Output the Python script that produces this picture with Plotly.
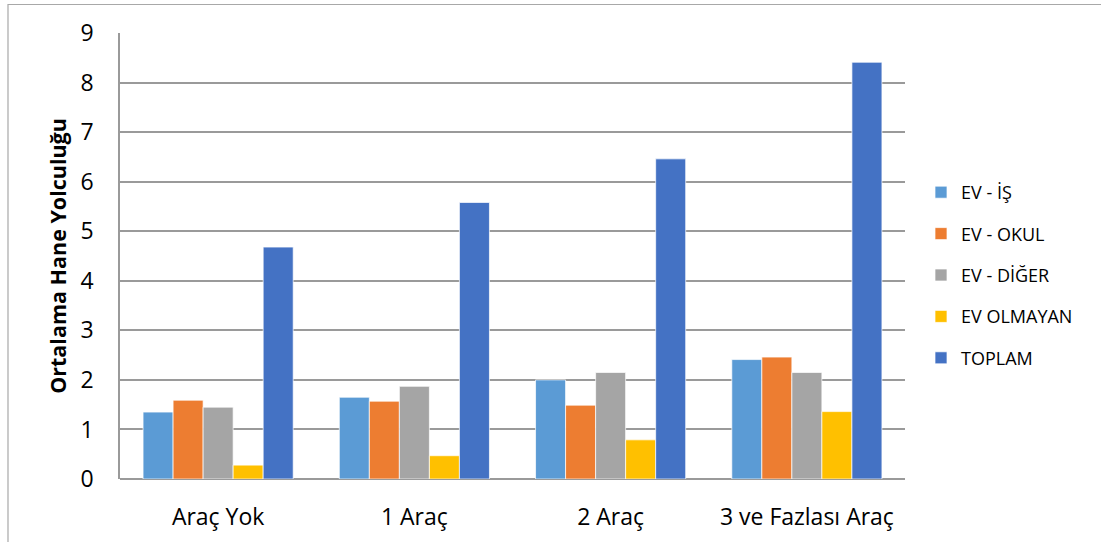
import plotly.graph_objects as go

# Average household trips by car ownership
categories = ["Araç Yok", "1 Araç", "2 Araç", "3 ve Fazlası Araç"]
series_names = ["EV - İŞ", "EV - OKUL", "EV - DİĞER", "EV OLMAYAN", "TOPLAM"]
ev_is = [1.35, 1.65, 2.00, 2.41]
ev_okul = [1.59, 1.57, 1.49, 2.46]
ev_diger = [1.45, 1.87, 2.15, 2.15]
ev_olmayan = [0.28, 0.47, 0.79, 1.36]
toplam = [4.68, 5.58, 6.46, 8.41]
y_ticks = [0, 1, 2, 3, 4, 5, 6, 7, 8, 9]

series_values = [ev_is, ev_okul, ev_diger, ev_olmayan, toplam]
colors = ["#5B9BD5", "#ED7D31", "#A5A5A5", "#FFC000", "#4472C4"]

FONT = "Open Sans, sans-serif"

fig = go.Figure()
for i, (name, vals, col) in enumerate(zip(series_names, series_values, colors)):
    fig.add_trace(go.Bar(
        x=categories, y=vals, name=name, legendgroup=f"g{i}",
        marker=dict(color=col, line=dict(color="rgba(255,255,255,0.7)", width=1)),
    ))

# Plot area spans 120..905 px horizontally, 33..479 px vertically
L, R, T, B = 120, 196, 33, 63
W, H = 1101, 542
pw, ph = W - L - R, H - T - B

fig.update_layout(
    width=W, height=H,
    margin=dict(l=L, r=R, t=T, b=B, autoexpand=False),
    paper_bgcolor="white", plot_bgcolor="white",
    barmode="group", bargap=0.235, bargroupgap=0,
    font=dict(family=FONT, color="#000000", size=22),
    legend=dict(
        x=(921 - L) / pw, y=1 - (174 - T) / ph, xanchor="left", yanchor="top",
        font=dict(size=18, family=FONT, color="#000000"),
        traceorder="grouped", tracegroupgap=15,
        bgcolor="rgba(0,0,0,0)",
    ),
    xaxis=dict(
        showgrid=False, showline=False, zeroline=False, automargin=False,
        ticks="outside", ticklen=17, tickcolor="rgba(0,0,0,0)",
        tickfont=dict(size=23, family=FONT),
    ),
    yaxis=dict(
        range=[0, 9], tickvals=y_ticks, showgrid=True, automargin=False,
        gridcolor="#9A9A9A", gridwidth=1.5,
        showline=True, linecolor="#9A9A9A", linewidth=1.5,
        zeroline=True, zerolinecolor="#9A9A9A", zerolinewidth=1.5,
        ticks="outside", ticklen=20, tickcolor="rgba(0,0,0,0)",
        tickfont=dict(size=23, family=FONT),
        title=dict(text="<b>Ortalama Hane Yolculuğu</b>", font=dict(size=21.5, family=FONT), standoff=8),
    ),
)

# Chart frame (top and left edges visible)
fig.add_shape(
    type="rect", xref="paper", yref="paper",
    x0=(8 - L) / pw, x1=(1110 - L) / pw,
    y0=-(H + 10 - (T + ph)) / ph, y1=1 + (T - 4.5) / ph,
    line=dict(color="#A8A8A8", width=1.2), fillcolor="rgba(0,0,0,0)", layer="below",
)

fig.write_html("out.html")
